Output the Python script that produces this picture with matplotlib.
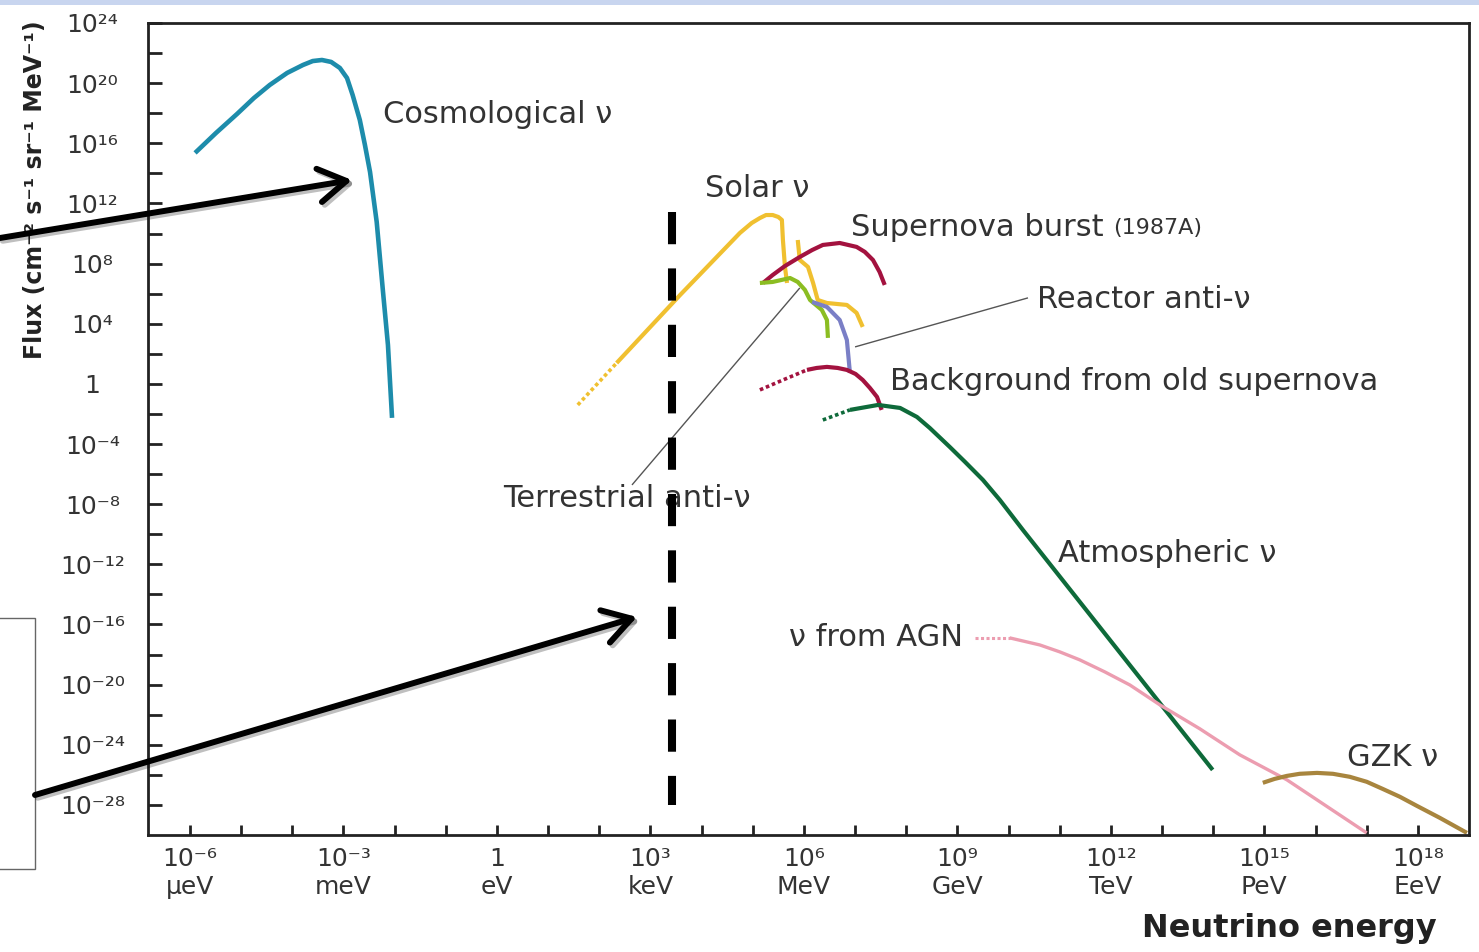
# Neutrino flux spectrum across energies, from cosmological to GZK neutrinos.
# Values are log10(energy / eV) and log10(flux).

import numpy as np
import matplotlib.pyplot as plt
from matplotlib.patches import Rectangle, FancyArrowPatch
import matplotlib.patheffects as pe

#---------------------- DATA ------------------------#

cosmo_logE = [-5.90, -5.49, -5.08, -4.75, -4.44, -4.10, -3.79, -3.60, -3.42, -3.24,
              -3.07, -2.93, -2.82, -2.68, -2.58, -2.48, -2.35, -2.23, -2.13, -2.05]
cosmo_logF = [15.36, 16.69, 17.95, 19.01, 19.88, 20.68, 21.21, 21.47, 21.54, 21.41,
              21.01, 20.34, 19.21, 17.55, 15.89, 14.09, 10.77, 6.25, 2.59, -2.26]

solar_dot_logE = [1.58, 2.34]
solar_dot_logF = [-1.40, 1.39]
solar_logE = [2.34, 3.58, 4.75, 4.98, 5.14, 5.26, 5.39, 5.50, 5.57, 5.59, 5.63, 5.67]
solar_logF = [1.39, 5.91, 10.04, 10.70, 11.03, 11.23, 11.23, 11.10, 10.90, 9.57, 7.78, 6.71]
solar2_logE = [5.88, 5.92, 6.08, 6.18, 6.27, 6.45, 6.84, 7.03, 7.15]
solar2_logF = [9.57, 8.24, 7.78, 6.71, 5.58, 5.38, 5.25, 4.72, 3.79]

snburst_logE = [5.20, 5.39, 5.63, 5.92, 6.16, 6.37, 6.70, 7.03, 7.19, 7.35, 7.48, 7.58]
snburst_logF = [6.71, 7.24, 7.84, 8.44, 8.90, 9.24, 9.37, 9.11, 8.78, 8.24, 7.44, 6.58]

terr_logE = [5.14, 5.39, 5.73, 5.88, 6.02, 6.12, 6.35, 6.45, 6.47]
terr_logF = [6.71, 6.78, 7.04, 6.78, 6.25, 5.58, 4.92, 4.25, 3.06]

reactor_logE = [6.16, 6.45, 6.70, 6.84, 6.90]
reactor_logF = [5.45, 5.12, 4.25, 2.92, 0.73]

oldsn_dot_logE = [5.14, 5.59, 6.06]
oldsn_dot_logF = [-0.40, 0.26, 0.93]
oldsn_logE = [6.06, 6.25, 6.45, 6.66, 6.84, 7.01, 7.15, 7.29, 7.43, 7.52]
oldsn_logF = [0.93, 1.06, 1.13, 1.06, 0.93, 0.66, 0.26, -0.27, -0.87, -1.73]

atmo_dot_logE = [6.37, 6.90]
atmo_dot_logF = [-2.40, -1.73]
atmo_logE = [6.90, 7.45, 7.88, 8.21, 8.46, 8.85, 9.15, 9.50, 9.83, 10.28, 13.99]
atmo_logF = [-1.73, -1.40, -1.60, -2.20, -2.93, -4.19, -5.19, -6.39, -7.72, -9.71, -25.67]

agn_dot_logE = [9.34, 10.02]
agn_dot_logF = [-16.89, -16.89]
agn_logE = [10.02, 10.61, 11.00, 11.39, 11.88, 12.37, 12.96, 13.74, 14.52, 15.44, 17.00]
agn_logF = [-16.89, -17.36, -17.82, -18.35, -19.15, -20.02, -21.35, -22.94, -24.67,
            -26.33, -29.86]

gzk_logE = [14.97, 15.20, 15.44, 15.69, 16.03, 16.34, 16.67, 17.00, 17.31, 17.65,
            17.98, 18.43, 18.96]
gzk_logF = [-26.53, -26.27, -26.07, -25.93, -25.87, -25.93, -26.13, -26.46, -26.93,
            -27.46, -28.06, -28.86, -29.86]

# detection threshold marker and leader lines
thresh_logE = 3.42
thresh_logF = [11.43, -28.0]
reactor_lead_logE = [7.0, 10.38]
reactor_lead_logF = [2.46, 5.72]
terr_lead_logE = [2.64, 5.92]
terr_lead_logF = [-6.72, 6.38]

x_tick_exps = [-6, -3, 0, 3, 6, 9, 12, 15, 18]
x_tick_labels = ["10⁻⁶\nμeV", "10⁻³\nmeV", "1\neV", "10³\nkeV", "10⁶\nMeV",
                 "10⁹\nGeV", "10¹²\nTeV", "10¹⁵\nPeV", "10¹⁸\nEeV"]
y_tick_exps = [24, 20, 16, 12, 8, 4, 0, -4, -8, -12, -16, -20, -24, -28]
y_tick_labels = ["10²⁴", "10²⁰", "10¹⁶", "10¹²", "10⁸", "10⁴", "1", "10⁻⁴",
                 "10⁻⁸", "10⁻¹²", "10⁻¹⁶", "10⁻²⁰", "10⁻²⁴", "10⁻²⁸"]

#---------------------- FIGURE ------------------------#

txt = "#333333"
fig = plt.figure(figsize=(14.79, 9.52), dpi=100)
ax = fig.add_axes([148 / 1479, 1 - 835 / 952, 1321 / 1479, 812 / 952])
ax.set_xscale("log")
ax.set_yscale("log")
ax.set_xlim(10 ** -6.82, 10 ** 19.0)
ax.set_ylim(1e-30, 1e24)

def p(le, lf, color, lw=3.0, ls="-"):
    ax.plot(10.0 ** np.array(le), 10.0 ** np.array(lf), color=color, lw=lw,
            ls=ls, solid_capstyle="butt", solid_joinstyle="round")

dot = (0, (1, 0.8))
p(cosmo_logE, cosmo_logF, "#1d8cab", 3.3)
p(solar_dot_logE, solar_dot_logF, "#f0c030", 2.6, dot)
p(solar_logE, solar_logF, "#f0c030", 3.0)
p(solar2_logE, solar2_logF, "#f0c030", 3.0)
p(snburst_logE, snburst_logF, "#a3123f", 3.0)
p(terr_logE, terr_logF, "#8bbd22", 3.0)
p(reactor_logE, reactor_logF, "#7a7fc6", 3.0)
p(oldsn_dot_logE, oldsn_dot_logF, "#a3123f", 2.6, dot)
p(oldsn_logE, oldsn_logF, "#a3123f", 3.0)
p(atmo_dot_logE, atmo_dot_logF, "#0e6a3a", 2.6, dot)
p(atmo_logE, atmo_logF, "#0e6a3a", 3.0)
p(agn_dot_logE, agn_dot_logF, "#ec9db0", 2.2, dot)
p(agn_logE, agn_logF, "#ec9db0", 2.4)
p(gzk_logE, gzk_logF, "#a8853e", 3.0)

p(reactor_lead_logE, reactor_lead_logF, "#555555", 1.0)
p(terr_lead_logE, terr_lead_logF, "#555555", 1.0)

ax.plot([10 ** thresh_logE] * 2, 10.0 ** np.array(thresh_logF), color="black",
        lw=5.8, ls=(0, (4, 3)), dash_capstyle="butt", zorder=5)

# axes styling
for s in ax.spines.values():
    s.set_linewidth(2.0)
    s.set_color("#222222")
ax.set_xticks(10.0 ** np.array(x_tick_exps), x_tick_labels)
ax.set_xticks(10.0 ** np.arange(-6, 19), minor=True)
ax.set_yticks(10.0 ** np.array(y_tick_exps), y_tick_labels)
ax.set_yticks(10.0 ** np.arange(-26, 24, 4), minor=True)
ax.xaxis.set_minor_formatter(plt.NullFormatter())
ax.yaxis.set_minor_formatter(plt.NullFormatter())
ax.tick_params(axis="x", which="both", direction="in", length=7, width=2,
               color="#222222", labelsize=18, labelcolor=txt, pad=9)
ax.tick_params(axis="y", which="both", direction="in", length=10, width=2,
               color="#222222", labelsize=18, labelcolor=txt, pad=40)
for lab in ax.get_xticklabels():
    lab.set_linespacing(1.2)
for lab in ax.get_yticklabels():
    lab.set_horizontalalignment("center")

# curve labels
fs = 22
def lbl(x, y, s, ha="left"):
    return ax.text(x, y, s, transform=ax.transAxes, fontsize=fs, color=txt,
                   ha=ha, va="center", zorder=4)

lbl(0.178, 0.887, "Cosmological ν")
lbl(0.422, 0.796, "Solar ν")
sn = lbl(0.532, 0.748, "Supernova burst")
ax.annotate("(1987A)", xy=(1, 0.5), xycoords=sn, xytext=(7, 0),
            textcoords="offset points", fontsize=16, color=txt, va="center")
lbl(0.673, 0.659, "Reactor anti-ν")
lbl(0.562, 0.559, "Background from old supernova")
lbl(0.269, 0.415, "Terrestrial anti-ν")
lbl(0.689, 0.347, "Atmospheric ν")
lbl(0.617, 0.243, "ν from AGN", ha="right")
lbl(0.908, 0.095, "GZK ν")

fig.text(35 / 1479, 1 - 190 / 952, "Flux (cm⁻² s⁻¹ sr⁻¹ MeV⁻¹)", rotation=90,
         ha="center", va="center", fontsize=17, fontweight="bold", color="#222222")
fig.text(1437 / 1479, 1 - 928 / 952, "Neutrino energy", ha="right", va="center",
         fontsize=23, fontweight="bold", color="#222222")

# slide decorations: top band, side box, arrows
fig.patches.append(Rectangle((0, 1 - 5 / 952), 1, 5 / 952, transform=fig.transFigure,
                             facecolor="#c8d5ef", edgecolor="none"))
fig.patches.append(Rectangle((-0.01, 1 - 869 / 952), 0.01 + 35 / 1479, 251 / 952,
                             transform=fig.transFigure, facecolor="none",
                             edgecolor="#666666", lw=1.0))
arrows = [((0 / 1479, 1 - 238 / 952), (352 / 1479, 1 - 180 / 952)),
          ((35 / 1479, 1 - 795 / 952), (637 / 1479, 1 - 617 / 952))]
for a, b in arrows:
    fig.patches.append(FancyArrowPatch(a, b, transform=fig.transFigure,
                                       arrowstyle="->,head_length=0.9,head_width=0.55",
                                       mutation_scale=22, lw=4.3, color="black",
                                       shrinkA=0, shrinkB=0, zorder=10,
                                       path_effects=[pe.SimpleLineShadow(offset=(2, -2), alpha=0.25),
                                                     pe.Normal()]))

fig.savefig("out.png", dpi=100)
